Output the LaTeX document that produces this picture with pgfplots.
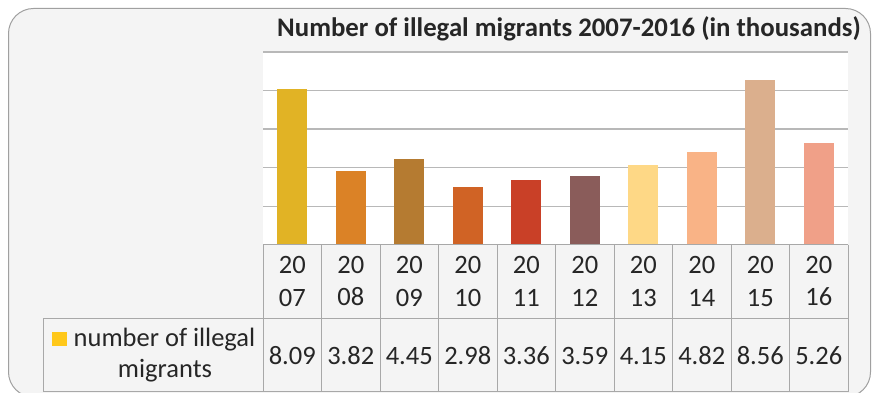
\documentclass[border=0pt]{standalone}
\usepackage{fontspec}
\setmainfont{Carlito}
\usepackage{pgfplots}
\pgfplotsset{compat=1.18}
\definecolor{bgc}{HTML}{F4F4F4}
\definecolor{frame}{HTML}{A0A0A0}
\definecolor{tline}{HTML}{A8A8A8}
\definecolor{gridc}{HTML}{B8B8B8}
\definecolor{txt}{HTML}{262626}
\definecolor{c1}{HTML}{E1B325}
\definecolor{c2}{HTML}{DB8226}
\definecolor{c3}{HTML}{B57B31}
\definecolor{c4}{HTML}{D06325}
\definecolor{c5}{HTML}{C94027}
\definecolor{c6}{HTML}{8A5C5A}
\definecolor{c7}{HTML}{FED886}
\definecolor{c8}{HTML}{F9B386}
\definecolor{c9}{HTML}{DBAF8D}
\definecolor{c10}{HTML}{F0A088}
\definecolor{legy}{HTML}{FFC81A}
\begin{document}
\begin{tikzpicture}[x=1pt,y=1pt]
\path[use as bounding box] (0,0) rectangle (872,393);
\fill[white] (0,0) rectangle (872,393);
\draw[frame, fill=bgc, line width=1pt, rounded corners=25pt] (8.5,384.5) rectangle (870.5,-4);
\node[anchor=base, font=\fontsize{26.8}{32}\selectfont\bfseries, text=txt, inner sep=0pt] at (569,356) {Number of illegal migrants 2007-2016 (in thousands)};
\begin{axis}[
  at={(263pt,148pt)}, anchor=south west,
  width=585pt, height=193pt, scale only axis,
  xmin=-0.5, xmax=9.5, ymin=0, ymax=10,
  axis background/.style={fill=white},
  axis line style={draw=none},
  major tick length=0pt,
  ytick={2,4,6,8,10}, yticklabels={},
  ymajorgrids, grid style={gridc, line width=1.4pt},
  xtick={0,...,9},
  xticklabels={20\\07,20\\08,20\\09,20\\10,20\\11,20\\12,20\\13,20\\14,20\\15,20\\16},
  xticklabel style={align=center, anchor=center, yshift=-36pt, inner sep=0pt,
    font=\fontsize{26.5}{33}\selectfont, text=txt},
  ybar, bar width=30pt,
  clip=false,
]
\draw[gridc, line width=1.4pt] (axis cs:-0.5,10) -- (axis cs:9.5,10);
\addplot[fill=c1, draw=none, bar shift=0pt] coordinates {(0,8.09)};
\addplot[fill=c2, draw=none, bar shift=0pt] coordinates {(1,3.82)};
\addplot[fill=c3, draw=none, bar shift=0pt] coordinates {(2,4.45)};
\addplot[fill=c4, draw=none, bar shift=0pt] coordinates {(3,2.98)};
\addplot[fill=c5, draw=none, bar shift=0pt] coordinates {(4,3.36)};
\addplot[fill=c6, draw=none, bar shift=0pt] coordinates {(5,3.59)};
\addplot[fill=c7, draw=none, bar shift=0pt] coordinates {(6,4.15)};
\addplot[fill=c8, draw=none, bar shift=0pt] coordinates {(7,4.82)};
\addplot[fill=c9, draw=none, bar shift=0pt] coordinates {(8,8.56)};
\addplot[fill=c10, draw=none, bar shift=0pt] coordinates {(9,5.26)};
\foreach \i/\v in {0/8.09,1/3.82,2/4.45,3/2.98,4/3.36,5/3.59,6/4.15,7/4.82,8/8.56,9/5.26}{
  \edef\tmp{\noexpand\node[anchor=center, inner sep=0pt, yshift=-110.6pt, font=\noexpand\fontsize{26.5}{33}\noexpand\selectfont, text=txt] at (axis cs:\i,0) {\v};}
  \tmp
}
\end{axis}
% table borders
\begin{scope}[tline, line width=1pt]
\draw (263,148) -- (848,148);
\draw (43,74) -- (848,74);
\draw (43,1) -- (848,1);
\draw (43,74) -- (43,1);
\foreach \k in {0,...,10}{ \draw ({263+\k*58.5},148) -- ({263+\k*58.5},1); }
\end{scope}
\fill[legy] (52,47) rectangle (67,61);
\node[anchor=base, inner sep=0pt, font=\fontsize{26.5}{33}\selectfont, text=txt] at (164.5,46) {number of illegal};
\node[anchor=base, inner sep=0pt, font=\fontsize{26.5}{33}\selectfont, text=txt] at (165,15.5) {migrants};
\end{tikzpicture}
\end{document}
